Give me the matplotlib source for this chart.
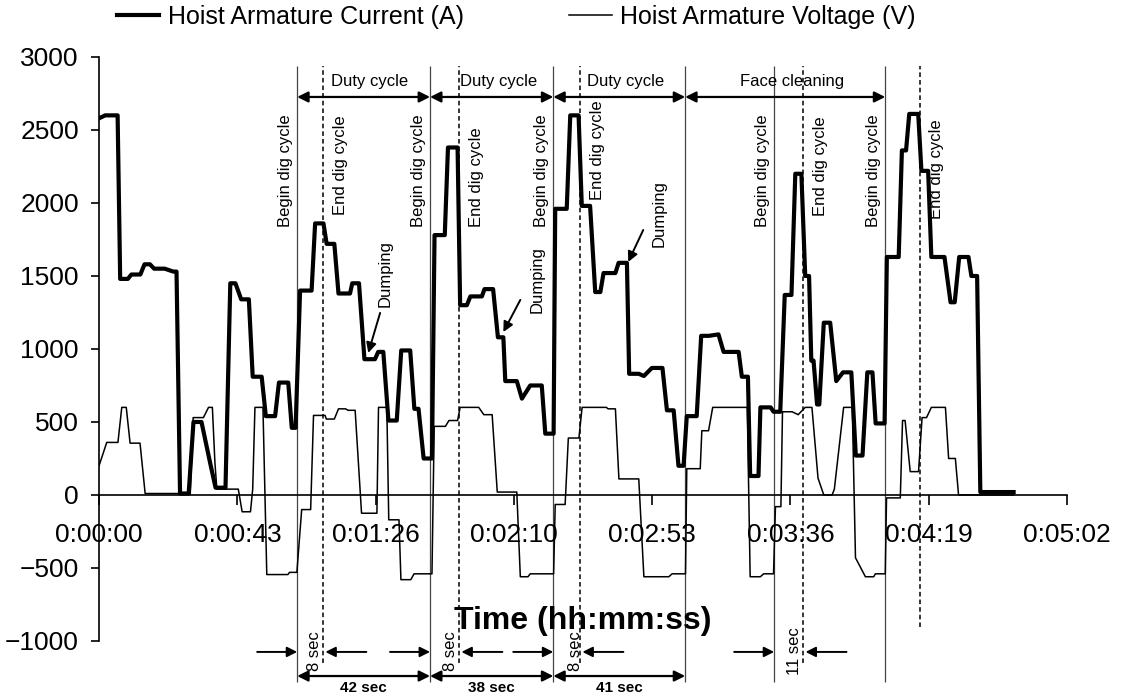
import matplotlib.pyplot as plt
from matplotlib.ticker import FuncFormatter

plt.rcParams['font.family'] = ['Liberation Sans', 'DejaVu Sans']

# hoist armature current (A) vs time (s)
cur_t = [0, 1.9, 5.8, 6.6, 9.0, 10.1, 12.9, 14.2, 15.9, 17.2, 20.5, 23.2, 24.2, 25.3,
         28.0, 29.5, 32.0, 34.7, 36.4, 39.5, 41.0, 42.6, 44.4, 46.8, 48.0, 50.8, 52.1,
         55.0, 56.2, 59.1, 60.2, 61.4, 62.8, 66.4, 67.5, 70.1, 71.1, 73.5, 74.8, 78.4,
         79.1, 81.2, 82.9, 86.2, 87.2, 88.8, 90.4, 93.0, 94.4, 97.2, 98.5, 99.8, 101.4,
         104.0, 104.8, 108.0, 109.0, 112.0, 112.8, 114.9, 116.0, 119.6, 120.4, 123.1,
         124.6, 126.3, 126.9, 130.5, 132.1, 134.7, 138.3, 139.4, 142.0, 142.5, 146.1,
         147.2, 149.8, 150.8, 153.4, 155.0, 156.6, 157.6, 161.3, 162.3, 164.9, 165.6,
         168.6, 170.2, 172.7, 176.0, 177.4, 179.5, 181.0, 182.6, 183.6, 186.7, 188.1,
         190.5, 193.5, 195.1, 199.8, 200.8, 202.7, 203.4, 206.0, 206.6, 209.8, 210.7,
         212.8, 214.2, 216.3, 217.5, 219.4, 220.6, 221.8, 222.5, 223.2, 224.3, 225.0,
         226.4, 228.4, 230.3, 232.4, 235.0, 236.4, 238.5, 240.0, 241.6, 242.6, 245.4,
         246.1, 249.8, 250.8, 252.1, 253.1, 255.9, 256.9, 259.0, 260.0, 264.1, 266.0,
         267.3, 268.7, 271.6, 272.5, 274.3, 275.3, 285.7]
cur_a = [2580, 2600, 2600, 1480, 1480, 1510, 1510, 1580, 1580, 1550, 1550, 1530, 1530, 10,
         10, 500, 500, 220, 50, 50, 1450, 1450, 1340, 1340, 810, 810, 540,
         540, 770, 770, 460, 460, 1400, 1400, 1860, 1860, 1720, 1720, 1380, 1380,
         1450, 1450, 930, 930, 980, 980, 510, 510, 990, 990, 590, 590, 250,
         250, 1780, 1780, 2380, 2380, 1300, 1300, 1360, 1360, 1410, 1410,
         1080, 1080, 780, 780, 660, 750, 750, 420, 420, 1960, 1960,
         2600, 2600, 1980, 1980, 1390, 1390, 1520, 1520, 1590, 1590, 830,
         830, 815, 870, 870, 580, 580, 200, 200, 540, 540, 1090,
         1090, 1100, 980, 980, 810, 810, 130, 130, 600, 600, 570,
         570, 1370, 1370, 2200, 2200, 1500, 1500, 920, 920, 620, 620,
         1180, 1180, 780, 840, 840, 270, 270, 840, 840, 490, 490,
         1630, 1630, 2360, 2360, 2610, 2610, 2220, 2220, 1630, 1630, 1320,
         1320, 1630, 1630, 1500, 1500, 20, 20]

# hoist armature voltage (V) vs time (s)
volt_t = [0, 2.4, 5.9, 7.1, 8.5, 9.7, 12.8, 14.4, 25.0, 28.5, 29.4, 32.6, 34.2, 35.4,
          36.2, 36.8, 43.5, 44.7, 47.3, 48.0, 48.7, 51.2, 52.4, 59.0, 59.5, 61.8, 63.3,
          66.1, 67.0, 70.6, 71.0, 73.5, 74.8, 77.0, 77.8, 80.0, 82.0, 86.8, 87.3, 89.9,
          90.5, 93.7, 94.3, 97.4, 98.4, 104.0, 104.7, 108.2, 109.3, 112.0, 112.8, 118.6,
          120.2, 122.8, 124.4, 130.5, 131.6, 134.0, 134.7, 142.0, 142.5, 145.6, 146.6,
          149.9, 150.9, 158.5, 159.0, 161.3, 162.4, 168.6, 170.2, 178.0, 179.0, 183.2,
          183.6, 187.8, 188.3, 190.4, 191.7, 202.5, 203.4, 206.6, 207.6, 210.7, 211.3,
          213.0, 213.5, 216.5, 218.4, 220.6, 222.7, 224.6, 226.4, 229.0, 229.7, 232.6,
          235.3, 236.3, 239.4, 242.0, 242.5, 245.6, 246.0, 250.3, 251.0, 251.8, 253.4,
          256.0, 257.1, 258.5, 260.0, 264.4, 265.4, 267.5, 268.5, 285.7]
volt_v = [200, 360, 360, 600, 600, 355, 355, 10, 10, 10, 530, 530, 600, 600,
          220, 40, 40, -115, -115, 40, 600, 600, -545, -545, -530, -530, -100,
          -100, 545, 545, 520, 520, 590, 590, 580, 580, -125, -125, 600, 600,
          -170, -170, -580, -580, -540, -540, 470, 470, 510, 510, 600, 600,
          550, 550, 20, 20, -560, -560, -540, -540, -65, -65, 390,
          390, 600, 600, 590, 590, 110, 110, -560, -560, -540, -540,
          180, 180, 440, 440, 600, 600, -560, -560, -540, -540, -80,
          -80, 570, 570, 550, 600, 600, 115, 0, 0, 40, 600,
          600, -430, -560, -560, -540, -540, -20, -20, 510, 510, 160,
          160, 530, 530, 600, 600, 250, 250, 0, 0]

# dig cycle markers (s)
begin_t = [61.9, 103.4, 141.9, 183.1, 210.9, 245.6]
end_t = [70.0, 112.5, 150.3, 220.0, 256.3]
phase_labels = ['Duty cycle', 'Duty cycle', 'Duty cycle', 'Face cleaning']
cycle_secs = ['42 sec', '38 sec', '41 sec']
gap_secs = ['8 sec', '8 sec', '8 sec', '11 sec']
dump_tip = [(84.1, 973), (126.3, 1116), (165.3, 1596)]
dump_tail = [(87.8, 1247), (131.6, 1336), (170.0, 1815)]
dump_text = [(89.4, 1517), (136.9, 1473), (175.0, 1928)]

fig = plt.figure(figsize=(11.23, 6.99), dpi=100)
ax = fig.add_axes([0.0882, 0.083, 0.862, 0.8355])

ln1, = ax.plot(cur_t, cur_a, color='black', lw=3.0, zorder=3,
               label='Hoist Armature Current (A)')
ln2, = ax.plot(volt_t, volt_v, color='black', lw=1.1, zorder=3,
               label='Hoist Armature Voltage (V)')

ax.set_xlim(0, 302.4)
ax.set_ylim(-1000, 3000)
ax.set_yticks(range(-1000, 3001, 500))
ax.set_xticks([i * 43.2 for i in range(8)])


def hms(x, pos):
    s = int(round(x))
    return '%d:%02d:%02d' % (s // 3600, (s % 3600) // 60, s % 60)


ax.xaxis.set_major_formatter(FuncFormatter(hms))
for side in ['top', 'right']:
    ax.spines[side].set_visible(False)
ax.spines['bottom'].set_position(('data', 0))
ax.spines['bottom'].set_linewidth(1.2)
ax.spines['left'].set_linewidth(1.2)
ax.tick_params(axis='both', labelsize=19, direction='out', width=1.2)
ax.tick_params(axis='y', length=6, pad=8.5)
ax.tick_params(axis='x', length=7, pad=13)

ax.set_xlabel('Time (hh:mm:ss)', fontsize=23, fontweight='bold')
ax.xaxis.set_label_coords(0.5, 0.06)

fig.legend(handles=[ln1, ln2], loc='center left', bbox_to_anchor=(0.104, 0.976),
           ncol=2, frameon=False, fontsize=18, handlelength=1.7, handletextpad=0.35,
           columnspacing=4.2, borderpad=0, borderaxespad=0)

# cycle marker lines
begin_low = [-1281] * len(begin_t)
ax.vlines(begin_t, begin_low, 2940, colors='#444444', lw=0.9, zorder=1, clip_on=False)
end_low = [-1151, -1151, -1151, -1151, -904]
ax.vlines(end_t, end_low, 2940, colors='black', lw=1.1, linestyles=(0, (3, 2)),
          zorder=1, clip_on=False)

for t in [0, 1, 2, 4, 5]:
    ax.annotate('Begin dig cycle', xy=(begin_t[t], 2610), xytext=(-3, 0),
                textcoords='offset points', rotation=90, ha='right', va='top', fontsize=12)
end_top = [2600, 2520, 2700, 2590, 2570]
for t, y in zip(end_t, end_top):
    ax.annotate('End dig cycle', xy=(t, y), xytext=(7, 0),
                textcoords='offset points', rotation=90, ha='left', va='top', fontsize=12)

arrow_kw = dict(arrowstyle='<|-|>', color='black', lw=1.6, mutation_scale=16,
                shrinkA=0, shrinkB=0)
one_kw = dict(arrowstyle='-|>', color='black', lw=1.4, mutation_scale=15,
              shrinkA=0, shrinkB=0)

phase_pairs = [(begin_t[0], begin_t[1]), (begin_t[1], begin_t[2]),
               (begin_t[2], begin_t[3]), (begin_t[3], begin_t[5])]
phase_text_t = [(a + b) / 2 + 2 for a, b in phase_pairs]
for (a, b), lab, tx in zip(phase_pairs, phase_labels, phase_text_t):
    ax.annotate('', xy=(b, 2726), xytext=(a, 2726), arrowprops=arrow_kw, annotation_clip=False)
    ax.text(tx, 2830, lab, ha='center', va='center', fontsize=12)

for tip, tail, txt in zip(dump_tip, dump_tail, dump_text):
    ax.annotate('', xy=tip, xytext=tail, arrowprops=one_kw)
    ax.text(txt[0], txt[1], 'Dumping', rotation=90, ha='center', va='center', fontsize=12)

# dig time arrows below the axis
gap_pairs = [(begin_t[0], end_t[0]), (begin_t[1], end_t[1]),
             (begin_t[2], end_t[2]), (begin_t[4], end_t[3])]
gap_text_t = [67.2, 109.7, 148.8, 217.2]
for (a, b), lab, tx in zip(gap_pairs, gap_secs, gap_text_t):
    ax.annotate('', xy=(a, -1075), xytext=(a - 12.5, -1075), arrowprops=one_kw,
                annotation_clip=False)
    ax.annotate('', xy=(b + 0.7, -1075), xytext=(b + 13.5, -1075), arrowprops=one_kw,
                annotation_clip=False)
    ax.text(tx, -1070, lab, rotation=90, ha='center', va='center', fontsize=12, clip_on=False)

for i, lab in enumerate(cycle_secs):
    a, b = begin_t[i], begin_t[i + 1]
    ax.annotate('', xy=(b, -1240), xytext=(a, -1240), arrowprops=arrow_kw, annotation_clip=False)
    ax.text((a + b) / 2, -1325, lab, ha='center', va='center', fontsize=11,
            fontweight='bold', clip_on=False)

fig.savefig('out.png', dpi=100)
